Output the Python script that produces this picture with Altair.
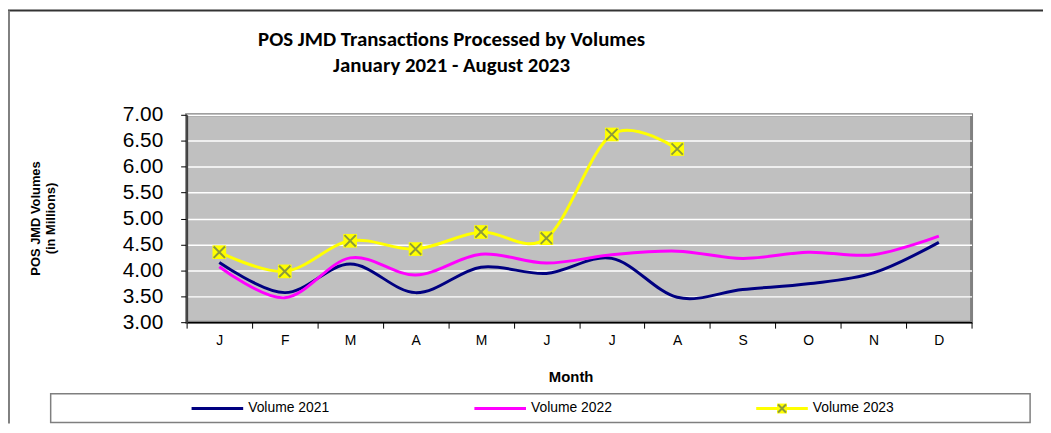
import altair as alt
import pandas as pd

months = ["Jan", "Feb", "Mar", "Apr", "May", "Jun", "Jul", "Aug", "Sep", "Oct", "Nov", "Dec"]
vol_2021 = [4.15, 3.57, 4.12, 3.57, 4.06, 3.94, 4.23, 3.48, 3.63, 3.74, 3.95, 4.54]
vol_2022 = [4.07, 3.47, 4.24, 3.91, 4.31, 4.14, 4.30, 4.37, 4.23, 4.35, 4.30, 4.66]
vol_2023 = [4.35, 3.98, 4.57, 4.41, 4.74, 4.62, 6.62, 6.34]
series = ["Volume 2021", "Volume 2022", "Volume 2023"]
colors = ["#000080", "#FF00FF", "#FFFF00"]
y_ticks = [3.0, 3.5, 4.0, 4.5, 5.0, 5.5, 6.0, 6.5, 7.0]
title_lines = ["POS JMD Transactions Processed by Volumes", "January 2021  - August 2023"]

rows = []
for name, vals in zip(series, [vol_2021, vol_2022, vol_2023]):
    for m, v in zip(months, vals):
        rows.append({"month": m, "value": v, "series": name})
df = pd.DataFrame(rows)
df23 = df[df["series"] == "Volume 2023"]

ARIAL = "Liberation Sans"
NARROW = "Liberation Sans Narrow, Liberation Sans, sans-serif"
TITLE_FONT = "Carlito, Lato, Open Sans, sans-serif"

x_enc = alt.X(
    "month:N",
    sort=months,
    scale=alt.Scale(domain=months, paddingInner=0, paddingOuter=0),
    axis=alt.Axis(
        labelExpr="substring(datum.label, 0, 1)",
        labelAngle=0,
        labelFont=ARIAL,
        labelFontSize=14,
        labelColor="black",
        labelPadding=5,
        tickBand="extent",
        tickSize=6,
        tickColor="black",
        tickWidth=1,
        domainColor="black",
        domainWidth=1.5,
        grid=False,
        title="Month",
        titleFont=NARROW,
        titleFontSize=15,
        titleFontWeight="bold",
        titleColor="black",
        titlePadding=23,
        titleX=387,
    ),
)
y_enc = alt.Y(
    "value:Q",
    scale=alt.Scale(domain=[3, 7], nice=False, zero=False),
    axis=alt.Axis(
        values=y_ticks,
        format=".2f",
        labelFont=ARIAL,
        labelFontSize=21,
        labelColor="black",
        labelPadding=18,
        tickSize=6,
        tickColor="black",
        domainColor="#404040",
        domainWidth=2,
        gridColor="white",
        gridWidth=1.5,
        title=["POS JMD Volumes", "(in Millions)"],
        titleFont=NARROW,
        titleFontSize=13,
        titleFontWeight="bold",
        titleColor="black",
        titleLineHeight=15,
        titleX=-145,
        titleY=104,
        titleAlign="center",
    ),
)

lines = alt.Chart(df).mark_line(interpolate="cardinal", strokeWidth=3).encode(
    x=x_enc,
    y=y_enc,
    color=alt.Color("series:N", scale=alt.Scale(domain=series, range=colors), legend=None),
    detail="series:N",
)
squares = alt.Chart(df23).mark_point(
    shape="square", filled=True, size=190, color="#FFFF00", opacity=1
).encode(x=x_enc, y=y_enc)
crosses = alt.Chart(df23).mark_point(
    shape="M-1,-1L1,1M-1,1L1,-1", filled=False, size=130, stroke="#8C9A3C", strokeWidth=2, opacity=1
).encode(x=x_enc, y=y_enc)

one = pd.DataFrame({"k": [0]})

frame_top = alt.Chart(one).mark_rule(color="#333333", strokeWidth=2).encode(
    x=alt.value(-180), x2=alt.value(863), y=alt.value(-105)
)
frame_left = alt.Chart(one).mark_rule(color="#808080", strokeWidth=2).encode(
    x=alt.value(-179), y=alt.value(-105), y2=alt.value(311)
)

title_layers = []
for i, t in enumerate(title_lines):
    title_layers.append(
        alt.Chart(pd.DataFrame({"t": [t]})).mark_text(
            align="center", baseline="middle", font=TITLE_FONT, fontSize=21,
            fontWeight="bold", color="black"
        ).encode(x=alt.value(267), y=alt.value(-75 + 26 * i), text="t:N")
    )

legend_box = alt.Chart(one).mark_rect(fill="white", stroke="#7F7F7F", strokeWidth=1.5).encode(
    x=alt.value(-137), x2=alt.value(850), y=alt.value(281), y2=alt.value(310)
)

legend_layers = [legend_box]
legend_x = [5, 290, 574]
LY = 296
for name, col, lx in zip(series, colors, legend_x):
    d = pd.DataFrame({"series": [name]})
    legend_layers.append(
        alt.Chart(d).mark_rule(color=col, strokeWidth=3).encode(
            x=alt.value(lx), x2=alt.value(lx + 52), y=alt.value(LY)
        )
    )
    legend_layers.append(
        alt.Chart(d).mark_text(
            align="left", baseline="middle", font=ARIAL, fontSize=14, color="black"
        ).encode(x=alt.value(lx + 57), y=alt.value(LY), text="series:N")
    )
    if name == "Volume 2023":
        legend_layers.append(
            alt.Chart(d).mark_point(shape="square", filled=True, size=100, color="#FFFF00", opacity=1).encode(
                x=alt.value(lx + 26), y=alt.value(LY)
            )
        )
        legend_layers.append(
            alt.Chart(d).mark_point(
                shape="M-1,-1L1,1M-1,1L1,-1", filled=False, size=64, stroke="#8C9A3C", strokeWidth=2, opacity=1
            ).encode(x=alt.value(lx + 26), y=alt.value(LY))
        )

chart = alt.layer(
    frame_top, frame_left, *title_layers, lines, squares, crosses, *legend_layers
).properties(
    width=791,
    height=209,
    autosize=alt.AutoSizeParams(type="none"),
    padding={"left": 180, "top": 106, "right": 72, "bottom": 102},
    background="white",
).configure_view(
    fill="#C0C0C0", stroke="#808080", strokeWidth=3
)

chart.save("out.html", embed_options={"renderer": "svg", "actions": False})
